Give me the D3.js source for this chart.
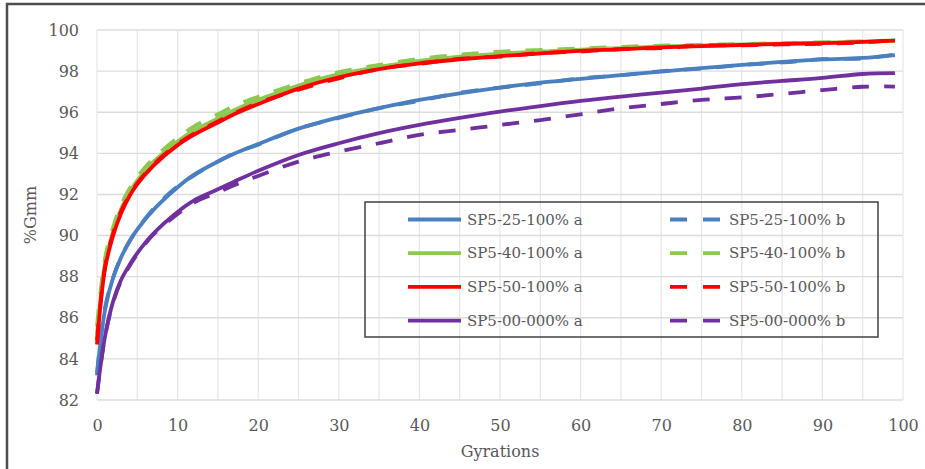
<!DOCTYPE html>
<html>
<head>
<meta charset="utf-8">
<script src="https://cdn.jsdelivr.net/npm/d3@7"></script>
<style>
  body { margin: 0; background: #fff; }
  text { font-family: "DejaVu Serif", serif; fill: #595959; }
</style>
</head>
<body>
<svg id="chart" width="925" height="469"></svg>
<script>
// data
var gyrations = [0, 1, 2, 3, 4, 5, 7, 10, 12, 15, 17, 20, 25, 30, 35, 40, 45, 50, 55, 60, 65, 70, 75, 80, 85, 90, 95, 99];

var sp25a = [83.2, 86.4, 87.95, 88.95, 89.7, 90.3, 91.25, 92.35, 92.95, 93.6, 93.98, 94.45, 95.2, 95.75, 96.2, 96.6, 96.92, 97.2, 97.44, 97.62, 97.81, 97.97, 98.15, 98.3, 98.45, 98.57, 98.64, 98.78];
var sp25b = [83.3, 86.5, 87.95, 88.95, 89.7, 90.3, 91.3, 92.4, 92.92, 93.6, 94.0, 94.42, 95.2, 95.72, 96.2, 96.55, 96.95, 97.2, 97.4, 97.65, 97.8, 98.0, 98.12, 98.3, 98.42, 98.58, 98.62, 98.8];
var sp40a = [85.2, 88.65, 90.2, 91.3, 92.08, 92.68, 93.58, 94.58, 95.1, 95.7, 96.1, 96.6, 97.3, 97.85, 98.2, 98.5, 98.7, 98.85, 98.95, 99.05, 99.12, 99.2, 99.25, 99.3, 99.34, 99.38, 99.43, 99.48];
var sp40b = [85.6, 88.9, 90.4, 91.5, 92.25, 92.85, 93.75, 94.75, 95.3, 95.9, 96.3, 96.75, 97.4, 97.95, 98.3, 98.6, 98.8, 98.95, 99.03, 99.1, 99.18, 99.24, 99.28, 99.32, 99.36, 99.4, 99.45, 99.5];
var sp50a = [84.7, 88.4, 90.0, 91.1, 91.9, 92.5, 93.4, 94.4, 94.9, 95.5, 95.9, 96.4, 97.15, 97.7, 98.1, 98.38, 98.57, 98.73, 98.86, 98.98, 99.06, 99.15, 99.22, 99.27, 99.32, 99.36, 99.42, 99.48];
var sp50b = [84.9, 88.5, 90.1, 91.2, 91.95, 92.55, 93.45, 94.45, 94.95, 95.55, 95.95, 96.45, 97.1, 97.65, 98.1, 98.35, 98.6, 98.7, 98.88, 98.96, 99.08, 99.12, 99.24, 99.25, 99.3, 99.33, 99.4, 99.5];
var sp00a = [82.3, 85.1, 86.8, 87.85, 88.55, 89.15, 90.1, 91.15, 91.7, 92.25, 92.62, 93.15, 93.92, 94.49, 94.98, 95.38, 95.72, 96.03, 96.3, 96.55, 96.76, 96.95, 97.15, 97.37, 97.52, 97.67, 97.86, 97.9];
var sp00b = [82.3, 85.1, 86.75, 87.8, 88.5, 89.1, 90.05, 91.05, 91.6, 92.1, 92.45, 92.9, 93.6, 94.08, 94.49, 94.9, 95.14, 95.38, 95.62, 95.9, 96.19, 96.4, 96.6, 96.72, 96.89, 97.08, 97.24, 97.25];

var seriesNames = ["SP5-25-100% a", "SP5-25-100% b", "SP5-40-100% a", "SP5-40-100% b",
                   "SP5-50-100% a", "SP5-50-100% b", "SP5-00-000% a", "SP5-00-000% b"];
var seriesValues = [sp25a, sp25b, sp40a, sp40b, sp50a, sp50b, sp00a, sp00b];
var colors = ["#4a7fc1", "#4a7fc1", "#8cc94f", "#8cc94f", "#ff0000", "#ff0000", "#7030a0", "#7030a0"];
var dashed = [false, true, false, true, false, true, false, true];

var xTicks = [0, 10, 20, 30, 40, 50, 60, 70, 80, 90, 100];
var yTicks = [82, 84, 86, 88, 90, 92, 94, 96, 98, 100];

var margin = { left: 97, right: 22, top: 30, bottom: 69 },
    width = 925 - margin.left - margin.right,
    height = 469 - margin.top - margin.bottom;

var svg = d3.select("#chart");

// outer frame (top + left only visible)
svg.append("path")
    .attr("d", "M7,469 L7,4 L925,4")
    .attr("fill", "none")
    .attr("stroke", "#4d4d4d")
    .attr("stroke-width", 2.5);

var g = svg.append("g")
    .attr("transform", "translate(" + margin.left + "," + margin.top + ")");

var x = d3.scaleLinear().domain([0, 100]).range([0, width]);
var y = d3.scaleLinear().domain([82, 100]).range([height, 0]);

// grid
g.selectAll(".vgrid")
    .data(d3.range(0, 101, 5))
    .enter().append("line")
    .attr("class", "vgrid")
    .attr("x1", function (d) { return x(d); })
    .attr("x2", function (d) { return x(d); })
    .attr("y1", 0)
    .attr("y2", height)
    .attr("stroke", "#e6e6e6")
    .attr("stroke-width", 1.2);

g.selectAll(".hgrid")
    .data(yTicks)
    .enter().append("line")
    .attr("class", "hgrid")
    .attr("x1", 0)
    .attr("x2", width)
    .attr("y1", function (d) { return y(d); })
    .attr("y2", function (d) { return y(d); })
    .attr("stroke", "#dcdcdc")
    .attr("stroke-width", 1.4);

// axes (labels only)
var xAxis = g.append("g")
    .attr("transform", "translate(0," + height + ")")
    .call(d3.axisBottom(x).tickValues(xTicks).tickSize(0).tickPadding(20));
xAxis.select(".domain").remove();
xAxis.selectAll("text").style("font-size", "16px").style("fill", "#595959")
    .style("font-family", "DejaVu Serif");

var yAxis = g.append("g")
    .call(d3.axisLeft(y).tickValues(yTicks).tickSize(0).tickPadding(18));
yAxis.select(".domain").remove();
yAxis.selectAll("text").style("font-size", "16px").style("fill", "#595959")
    .style("font-family", "DejaVu Serif");

svg.append("text")
    .attr("x", margin.left + width / 2)
    .attr("y", 457)
    .attr("text-anchor", "middle")
    .style("font-size", "16px")
    .text("Gyrations");

svg.append("text")
    .attr("transform", "translate(36,215) rotate(-90)")
    .attr("text-anchor", "middle")
    .style("font-size", "16px")
    .text("%Gmm");

// lines
var line = d3.line()
    .x(function (d) { return x(d[0]); })
    .y(function (d) { return y(d[1]); })
    .curve(d3.curveCatmullRom.alpha(0.5));

seriesValues.forEach(function (vals, i) {
    var pts = gyrations.map(function (n, j) { return [n, vals[j]]; });
    g.append("path")
        .datum(pts)
        .attr("d", line)
        .attr("fill", "none")
        .attr("stroke", colors[i])
        .attr("stroke-width", 3.8)
        .attr("stroke-dasharray", dashed[i] ? "17,15" : null);
});

// legend
var lg = svg.append("g");
lg.append("rect")
    .attr("x", 365)
    .attr("y", 202)
    .attr("width", 513)
    .attr("height", 135)
    .attr("fill", "none")
    .attr("stroke", "#404040")
    .attr("stroke-width", 1.5);

seriesNames.forEach(function (name, i) {
    var row = Math.floor(i / 2), col = i % 2;
    var yy = 219.5 + row * 33.7;
    var x0 = col === 0 ? 408 : 670;
    lg.append("line")
        .attr("x1", x0)
        .attr("x2", x0 + 53)
        .attr("y1", yy)
        .attr("y2", yy)
        .attr("stroke", colors[i])
        .attr("stroke-width", 3.8)
        .attr("stroke-dasharray", dashed[i] ? "17,16" : null);
    lg.append("text")
        .attr("x", col === 0 ? 467 : 729)
        .attr("y", yy)
        .attr("dy", "0.35em")
        .style("font-size", "15px")
        .text(name);
});
</script>
</body>
</html>
